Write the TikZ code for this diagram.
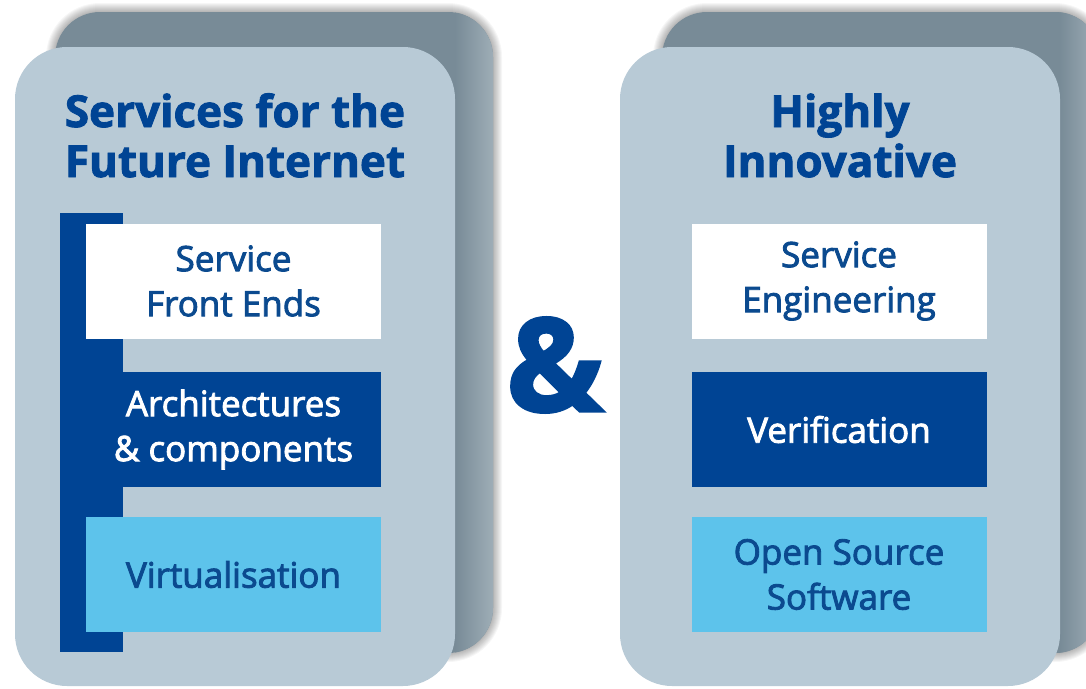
\documentclass[tikz,border=0pt]{standalone}
\usepackage{fontspec}
\setmainfont{Open Sans}
\newfontfamily\semib{Open Sans}[FakeBold=2.5]
\newfontfamily\heavy{Open Sans}[BoldFeatures={FakeBold=2}]
\usetikzlibrary{calc}

\definecolor{euBlue}{RGB}{0,68,148}
\definecolor{skyBlue}{RGB}{93,195,235}
\definecolor{cardBlue}{RGB}{184,202,214}
\definecolor{backGray}{RGB}{120,139,151}
\definecolor{backLight}{RGB}{160,175,184}
\definecolor{textBlue}{RGB}{11,74,143}

\tikzset{
  frontcard/.style={fill=cardBlue, rounded corners=52pt},
  backcard/.style={fill=backGray, rounded corners=45pt},
  halo/.style={fill=black, opacity=0.035},
  tile/.style={rectangle, inner sep=0pt, minimum width=295pt, minimum height=115pt,
    align=center, font=\semib\fontsize{35}{45}\selectfont},
  whitetile/.style={tile, fill=white, text=textBlue},
  darktile/.style={tile, fill=euBlue, text=white},
  skytile/.style={tile, fill=skyBlue, text=textBlue},
  heading/.style={anchor=base, inner sep=0pt, text=euBlue,
    font=\heavy\bfseries\fontsize{44}{50}\selectfont},
}

\begin{document}
\begin{tikzpicture}[x=1pt, y=-1pt]
\useasboundingbox (0,0) rectangle (1086,688);

% soft halo round the two rear cards
\foreach \d in {1,2,...,9} {
  \fill[halo, rounded corners=45pt+\d pt] (55-\d,12-\d) rectangle (493+\d,653+\d);
  \fill[halo, rounded corners=45pt+\d pt] (662-\d,12-\d) rectangle (1100+\d,653+\d);
}

% rear cards, lighter towards their right edge
\fill[backcard] (55,12) rectangle (493,653);
\fill[backcard] (662,12) rectangle (1100,653);
\begin{scope}
  \clip[rounded corners=45pt] (55,12) rectangle (493,653);
  \shade[left color=backGray, right color=backLight] (455,0) rectangle (495,660);
\end{scope}
\begin{scope}
  \clip[rounded corners=45pt] (662,12) rectangle (1100,653);
  \shade[left color=backGray, right color=backLight] (1060,0) rectangle (1100,660);
\end{scope}

% front cards
\fill[frontcard] (15,47) rectangle (455,686);
\fill[frontcard] (620,47) rectangle (1060,686);

% bracket bar behind the left column of tiles
\fill[euBlue] (60,213) rectangle (123,652);

% left column
\node[heading] (lt1) at (235,127) {Services for the};
\node[heading] (lt2) at (235,177) {Future Internet};
\node[whitetile] (sfe) at (233.5,281) {Service\\Front Ends};
\node[darktile]  (arc) at (233.5,429.5) {Architectures\\\& components};
\node[skytile]   (vir) at (233.5,574.5) {Virtualisation};

% right column
\node[heading] (rt1) at (840,127) {Highly};
\node[heading] (rt2) at (840,177) {Innovative};
\node[whitetile] (seng) at (839,281) {Service\\Engineering};
\node[darktile]  (ver)  at (839,429.5) {Verification};
\node[skytile]   (oss)  at (839,574.5) {Open Source\\Software};

% ampersand between the cards
\node[inner sep=0pt, text=euBlue, font=\heavy\bfseries\fontsize{130}{130}\selectfont] (amp) at (555,365) {\&};
\end{tikzpicture}
\end{document}
